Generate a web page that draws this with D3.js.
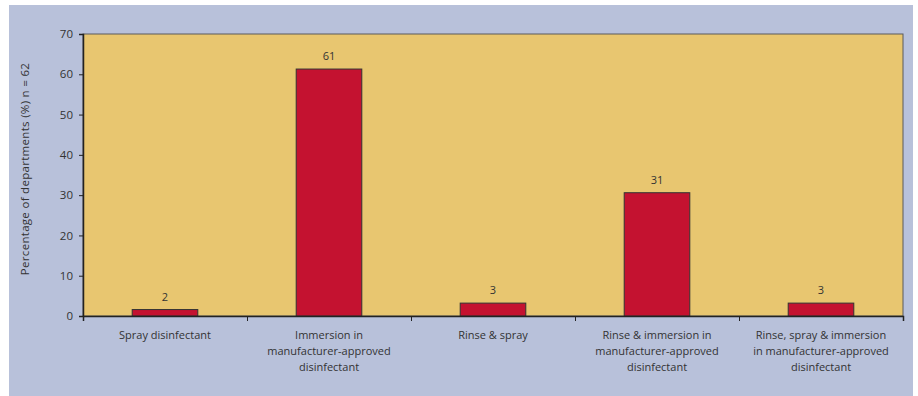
<!DOCTYPE html>
<html><head><meta charset="utf-8">
<script src="https://cdn.jsdelivr.net/npm/d3@7"></script>
<style>body{margin:0;background:#fff;}svg{display:block;font-family:"Open Sans",sans-serif;}</style>
</head><body><svg id="c" width="918" height="396"></svg>
<script>
const categories = [
  ["Spray disinfectant"],
  ["Immersion in","manufacturer-approved","disinfectant"],
  ["Rinse & spray"],
  ["Rinse & immersion in","manufacturer-approved","disinfectant"],
  ["Rinse, spray & immersion","in manufacturer-approved","disinfectant"]
];
const values = [1.6, 61.3, 3.2, 30.6, 3.2];
const valueLabels = ["2","61","3","31","3"];
const yTicks = [0,10,20,30,40,50,60,70];
const yTitle = "Percentage of departments (%) n = 62";

const svg = d3.select("#c");
svg.append("rect").attr("x",9).attr("y",5).attr("width",904).attr("height",391).attr("fill","#b8c1da");

const m = {l:83, t:34, r:903, b:316};
const x = d3.scaleBand().domain(d3.range(categories.length)).range([m.l,m.r]).paddingInner(0.6).paddingOuter(0.3);
const y = d3.scaleLinear().domain([0,70]).range([m.b,m.t]);

svg.append("rect").attr("x",m.l).attr("y",m.t).attr("width",m.r-m.l).attr("height",m.b-m.t)
  .attr("fill","#e8c670").attr("stroke","#5a5a5a").attr("stroke-width",1);

svg.selectAll("rect.bar").data(values).join("rect").attr("class","bar")
  .attr("x",(d,i)=>x(i)).attr("width",x.bandwidth())
  .attr("y",d=>y(d)).attr("height",d=>y(0)-y(d))
  .attr("fill","#c41230").attr("stroke","#333").attr("stroke-width",1);

svg.selectAll("text.val").data(values).join("text").attr("class","val")
  .attr("x",(d,i)=>x(i)+x.bandwidth()/2).attr("y",d=>y(d)-9)
  .attr("text-anchor","middle").attr("font-size",11).attr("fill","#333")
  .text((d,i)=>valueLabels[i]);

// Y axis
const ya = svg.append("g").attr("transform",`translate(${m.l},0)`)
  .call(d3.axisLeft(y).tickValues(yTicks).tickSize(4).tickPadding(6));
ya.select(".domain").attr("stroke","#222").attr("stroke-width",1.5);
ya.selectAll(".tick line").attr("stroke","#222");
ya.selectAll("text").attr("font-size",11.5).attr("fill","#333").attr("font-family","Open Sans");

// X axis with ticks at boundaries
const xEdge = d3.scaleLinear().domain([0,categories.length]).range([m.l,m.r]);
const xa = svg.append("g").attr("transform",`translate(0,${m.b})`)
  .call(d3.axisBottom(xEdge).tickValues(d3.range(categories.length+1)).tickSize(5).tickFormat(""));
xa.select(".domain").attr("stroke","#222").attr("stroke-width",1.5);
xa.selectAll(".tick line").attr("stroke","#222");

const lab = svg.selectAll("text.cat").data(categories).join("text").attr("class","cat")
  .attr("text-anchor","middle").attr("font-size",11).attr("fill","#333")
  .attr("transform",(d,i)=>`translate(${x(i)+x.bandwidth()/2},${m.b+23})`);
lab.selectAll("tspan").data(d=>d).join("tspan").attr("x",0).attr("dy",(d,j)=>j===0?0:16).text(d=>d);

svg.append("text").attr("transform",`translate(29,${(m.t+m.b)/2-6}) rotate(-90)`)
  .attr("text-anchor","middle").attr("font-size",11.5).attr("letter-spacing",0.3).attr("fill","#333").text(yTitle);
</script></body></html>
